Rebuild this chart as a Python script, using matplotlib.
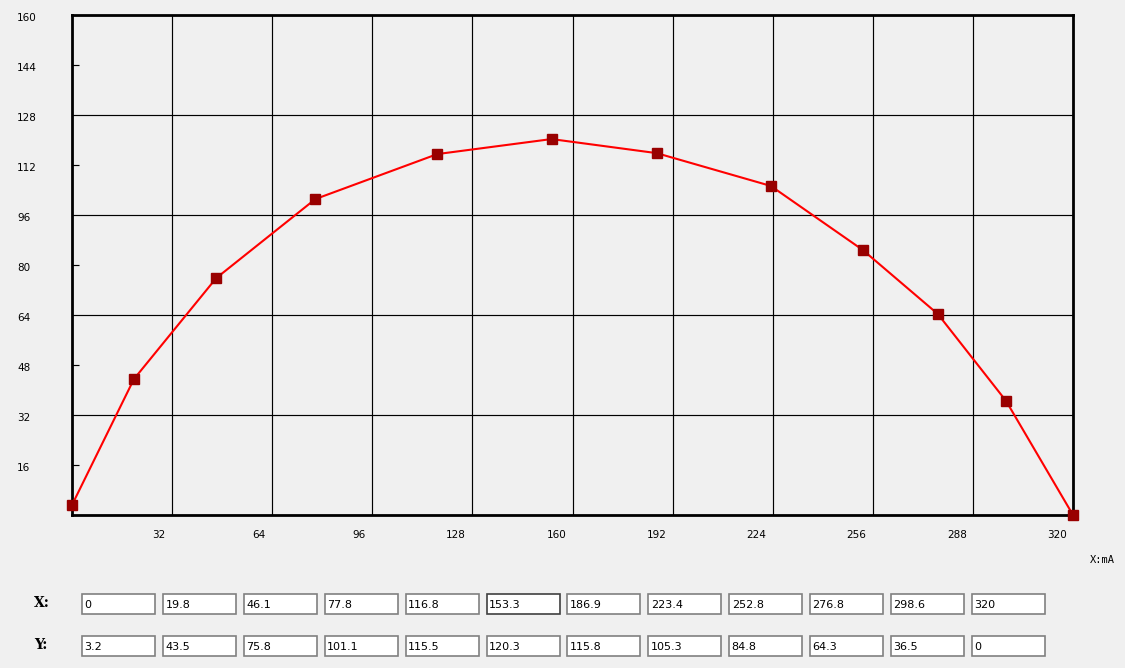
import numpy as np
import matplotlib
matplotlib.use('Agg')
import matplotlib.pyplot as plt
from matplotlib.patches import Rectangle
from matplotlib.transforms import blended_transform_factory

# values
x_vals = [0, 19.8, 46.1, 77.8, 116.8, 153.3, 186.9, 223.4, 252.8, 276.8, 298.6, 320]
y_vals = [3.2, 43.5, 75.8, 101.1, 115.5, 120.3, 115.8, 105.3, 84.8, 64.3, 36.5, 0]
x_text = ['0', '19.8', '46.1', '77.8', '116.8', '153.3', '186.9', '223.4', '252.8', '276.8', '298.6', '320']
y_text = ['3.2', '43.5', '75.8', '101.1', '115.5', '120.3', '115.8', '105.3', '84.8', '64.3', '36.5', '0']
x_ticks = list(range(32, 321, 32))
y_ticks = list(range(16, 161, 16))

W, H = 1125, 668
bg = '#f0f0f0'
fig = plt.figure(figsize=(W / 100, H / 100), dpi=100, facecolor=bg)

ax = fig.add_axes([72 / W, (H - 515) / H, 1001 / W, 500 / H])
ax.set_facecolor(bg)
ax.set_xlim(0, 320)
ax.set_ylim(0, 160)

# grid every 32 units, small inward ticks every 16 on y
ax.set_xticks(x_ticks)
ax.set_yticks(range(32, 161, 32))
ax.set_yticks(range(16, 161, 32), minor=True)
ax.grid(True, color='black', linewidth=0.85)
ax.tick_params(axis='x', length=0, labelbottom=False)
ax.tick_params(axis='y', which='major', length=0, labelleft=False)
ax.tick_params(axis='y', which='minor', direction='in', length=5, width=0.85, color='black')
for s in ax.spines.values():
    s.set_linewidth(2.0)
    s.set_color('black')

ax.plot(x_vals, y_vals, color='#ff0000', linewidth=1.5, zorder=3, clip_on=False)
ax.plot(x_vals, y_vals, linestyle='none', marker='s', markersize=7.5,
        color='#990000', zorder=4, clip_on=False)

tx = blended_transform_factory(ax.transData, ax.transAxes)
ty = blended_transform_factory(ax.transAxes, ax.transData)
font = 'DejaVu Sans'
for t in x_ticks:
    ax.text(t - 2, -0.04, str(t), transform=tx, ha='right', va='center',
            fontsize=7.5, family=font)
for t in y_ticks:
    ax.text(-55 / 1001, t - 1, str(t), transform=ty, ha='left', va='center',
            fontsize=7.5, family=font)

# overlay in pixel coordinates for the entry table
ov = fig.add_axes([0, 0, 1, 1])
ov.set_xlim(0, W)
ov.set_ylim(H, 0)
ov.axis('off')
ov.patch.set_alpha(0)

ov.text(1090, 560, 'X:mA', fontsize=7.5, family='DejaVu Sans Mono', va='center', ha='left')
ov.text(34, 603, 'X:', fontsize=10, family='DejaVu Serif', weight='bold', va='center')
ov.text(34, 645, 'Y:', fontsize=10, family='DejaVu Serif', weight='bold', va='center')

for i in range(len(x_text)):
    left = 82 + i * 80.9
    for top, label in ((594, x_text[i]), (636, y_text[i])):
        edge = '#404040' if (i == 5 and top == 594) else '#808080'
        ov.add_patch(Rectangle((left, top), 73, 20, facecolor='white',
                               edgecolor=edge, linewidth=1.2))
        ov.text(left + 2.5, top + 10.5, label, fontsize=8, family=font,
                va='center', ha='left')

fig.savefig('out.png', dpi=100, facecolor=bg)
